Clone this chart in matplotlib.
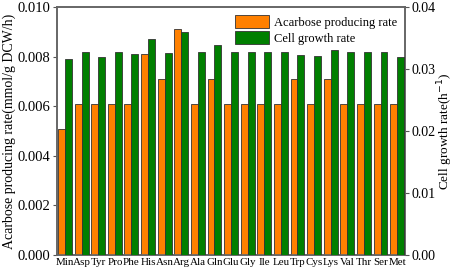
import matplotlib
matplotlib.use("Agg")
import matplotlib.pyplot as plt
import numpy as np

plt.rcParams['font.family'] = ['Liberation Serif', 'DejaVu Serif']

categories = ["Min", "Asp", "Tyr", "Pro", "Phe", "His", "Asn", "Arg", "Ala", "Gln", "Glu",
              "Gly", "Ile", "Leu", "Trp", "Cys", "Lys", "Val", "Thr", "Ser", "Met"]
acarbose = [0.0051, 0.0061, 0.0061, 0.0061, 0.0061, 0.0081, 0.0071, 0.0091, 0.0061, 0.0071, 0.0061,
            0.0061, 0.0061, 0.0061, 0.0071, 0.0061, 0.0071, 0.0061, 0.0061, 0.0061, 0.0061]
growth = [0.0317, 0.0328, 0.0320, 0.0328, 0.0324, 0.0349, 0.0326, 0.0360, 0.0328, 0.0339, 0.0328,
          0.0328, 0.0328, 0.0328, 0.0323, 0.0321, 0.0331, 0.0328, 0.0328, 0.0328, 0.0320]

fig = plt.figure(figsize=(4.54, 2.73), dpi=100)
ax = fig.add_axes([0.125, 0.066, 0.768, 0.908])
ax2 = ax.twinx()
x = np.arange(len(categories))
w = 0.42
ax.bar(x - w/2, acarbose, w, color='#FF8000', edgecolor='#333333', linewidth=0.6,
       label='Acarbose producing rate', zorder=3)
ax2.bar(x + w/2, growth, w, color='#007F00', edgecolor='#333333', linewidth=0.6,
        label='Cell growth rate', zorder=3)
ax.set_xlim(-0.5, len(categories) - 0.5)
ax.set_ylim(0, 0.010)
ax2.set_ylim(0, 0.04)
ax.set_yticks([0, 0.002, 0.004, 0.006, 0.008, 0.010])
ax.set_yticklabels(['0.000', '0.002', '0.004', '0.006', '0.008', '0.010'])
ax2.set_yticks([0, 0.01, 0.02, 0.03, 0.04])
ax2.set_yticklabels(['0.00', '0.01', '0.02', '0.03', '0.04'])
ax.set_xticks(x)
ax.set_xticklabels(categories, fontsize=7.9)
ax.tick_params(axis='x', length=0, pad=2)
ax.tick_params(axis='y', labelsize=10.5, direction='out', length=3, color='#555555', pad=1.5)
ax2.tick_params(axis='y', labelsize=10, direction='out', length=3, color='#555555', pad=1.5)
for a in (ax, ax2):
    for s in a.spines.values():
        s.set_color('#666666')
        s.set_linewidth(1.2)
ax.set_ylabel('Acarbose producing rate(mmol/g DCW/h)', fontsize=10, labelpad=1)
ax2.set_ylabel('Cell growth rate(h$^{-1}$)', fontsize=9.5, labelpad=0)

h1, l1 = ax.get_legend_handles_labels()
h2, l2 = ax2.get_legend_handles_labels()
ax2.legend(h1 + h2, l1 + l2, loc='upper right', fontsize=9, frameon=False,
           handlelength=2.7, handleheight=1.25, labelspacing=0.15, borderaxespad=0.25,
           handletextpad=0.4)
fig.savefig('out.png', dpi=100)
